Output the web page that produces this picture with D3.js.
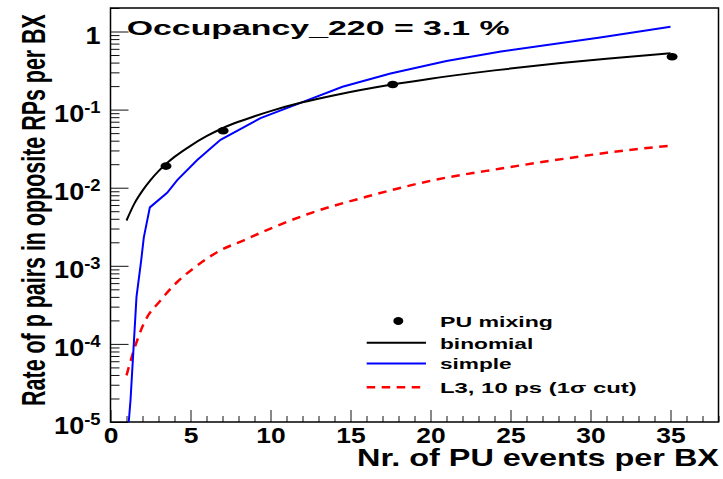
<!DOCTYPE html>
<html>
<head>
<meta charset="utf-8">
<script src="https://cdn.jsdelivr.net/npm/d3@7"></script>
<style>
  body { margin: 0; background: #fff; }
  text { font-family: "Liberation Sans", Arial, Helvetica, sans-serif; font-weight: bold; fill: #000; }
</style>
</head>
<body>
<svg id="chart" width="723" height="479"></svg>
<script>
// PU mixing simulation points
const puX = [3.47, 7.04, 17.64, 35.1];
const puY = [0.0189, 0.0535, 0.21, 0.475];

// binomial expectation
const binomX = [1, 1.5, 2, 2.5, 3, 3.5, 4, 5, 6, 7, 8, 9, 10, 12, 14, 17.6, 20, 24, 28, 31, 35];
const binomY = [0.0038, 0.0063, 0.00916, 0.0125, 0.0163, 0.0204, 0.0248, 0.0344, 0.0456, 0.0577, 0.0698, 0.0823, 0.0957, 0.124, 0.153, 0.2096, 0.249, 0.318, 0.3925, 0.449, 0.525];

// simple model
const simpleX = [1.0, 1.14, 1.25, 1.42, 1.625, 1.92, 2.08, 2.46, 3.54, 4.17, 5.42, 6.875, 9.375, 11.875, 14.5, 17.5, 21.0, 24.4, 30.6, 35.0];
const simpleY = [3.5e-6, 1.0e-5, 1.9e-5, 7.5e-5, 4.0e-4, 1.18e-3, 2.3e-3, 5.6e-3, 8.6e-3, 0.0125, 0.0226, 0.041, 0.0778, 0.122, 0.196, 0.29, 0.42, 0.555, 0.84, 1.15];

// L3, 10 ps timing (1 sigma cut)
const l3X = [1.0, 1.46, 2.08, 3.125, 4.17, 5.42, 6.875, 8.33, 10.0, 12.3, 16.04, 20.2, 24.4, 28.5, 32.7, 35.0];
const l3Y = [3.95e-5, 8.3e-5, 1.82e-4, 3.6e-4, 6.2e-4, 1.01e-3, 1.58e-3, 2.12e-3, 3.0e-3, 4.57e-3, 7.7e-3, 0.0125, 0.0176, 0.0237, 0.0309, 0.0345];

// axis ticks
const xMajor = [0, 5, 10, 15, 20, 25, 30, 35];
const xMinor = d3.range(1, 39).filter(v => v % 5 !== 0);
const yExp = [-5, -4, -3, -2, -1, 0];

const legendLabels = ["PU mixing", "binomial", "simple", "L3, 10 ps (1\u03c3 cut)"];

const L = 110.5, R = 718.5, T = 8, B = 422;
const svg = d3.select("#chart");

const x = d3.scaleLinear().domain([0, 38]).range([L, R]);
const y = d3.scaleLog().domain([1e-5, 2]).range([B, T]);

const yMajor = yExp.map(e => Math.pow(10, e));
const yMinor = [];
yExp.forEach(e => { for (let k = 2; k <= 9; k++) { const v = k * Math.pow(10, e); if (v <= 2) yMinor.push(v); } });

svg.append("defs").append("clipPath").attr("id", "plotclip")
  .append("rect").attr("x", L).attr("y", T).attr("width", R - L).attr("height", B - T);

// frame background
svg.append("rect").attr("x", L).attr("y", T).attr("width", R - L).attr("height", B - T)
  .attr("fill", "#fff").attr("stroke", "none");

// y axis (log)
const yMinorAxis = svg.append("g").attr("transform", `translate(${L},0)`)
  .call(d3.axisLeft(y).tickValues(yMinor).tickSizeInner(-9).tickSizeOuter(0).tickFormat(() => ""));
const yMajorAxis = svg.append("g").attr("transform", `translate(${L},0)`)
  .call(d3.axisLeft(y).tickValues(yMajor).tickSizeInner(-18).tickSizeOuter(0).tickPadding(10).tickFormat(() => ""));
[yMinorAxis, yMajorAxis].forEach(g => {
  g.select(".domain").remove();
  g.selectAll("line").attr("stroke", "#111").attr("stroke-width", 1);
});
const ySx = 1.15;
yMajorAxis.selectAll(".tick text").each(function (d, i) {
  const t = d3.select(this)
    .attr("x", -10 / ySx).attr("dy", null).attr("y", 11.5)
    .attr("transform", `scale(${ySx},1)`)
    .attr("font-size", 23.5).attr("text-anchor", "end").attr("fill", "#000");
  const e = yExp[i];
  if (e === 0) {
    t.append("tspan").text("1");
  } else {
    t.append("tspan").text("10");
    t.append("tspan").attr("font-size", 16).attr("dy", -9).text(String(e));
  }
});

// x axis
const xMinorAxis = svg.append("g").attr("transform", `translate(0,${B})`)
  .call(d3.axisBottom(x).tickValues(xMinor).tickSizeInner(-6).tickSizeOuter(0).tickFormat(() => ""));
const xMajorAxis = svg.append("g").attr("transform", `translate(0,${B})`)
  .call(d3.axisBottom(x).tickValues(xMajor).tickSizeInner(-12).tickSizeOuter(0).tickPadding(5).tickFormat(d3.format("d")));
[xMinorAxis, xMajorAxis].forEach(g => {
  g.select(".domain").remove();
  g.selectAll("line").attr("stroke", "#111").attr("stroke-width", 1);
});
xMajorAxis.selectAll(".tick text")
  .attr("font-size", 22).attr("fill", "#000")
  .attr("transform", "scale(1.2,1)");

// frame
svg.append("rect").attr("x", L).attr("y", T).attr("width", R - L).attr("height", B - T)
  .attr("fill", "none").attr("stroke", "#000").attr("stroke-width", 1.5);

// curves
const plot = svg.append("g").attr("clip-path", "url(#plotclip)");
const lineOf = (xs, ys, curve) => d3.line().x((d, i) => x(xs[i])).y((d, i) => y(ys[i])).curve(curve)(xs);

plot.append("path").attr("d", lineOf(l3X, l3Y, d3.curveMonotoneX))
  .attr("fill", "none").attr("stroke", "#ff0000").attr("stroke-width", 2.5).attr("stroke-dasharray", "8.5,6.5");
plot.append("path").attr("d", lineOf(simpleX, simpleY, d3.curveLinear))
  .attr("fill", "none").attr("stroke", "#0000ff").attr("stroke-width", 2);
plot.append("path").attr("d", lineOf(binomX, binomY, d3.curveMonotoneX))
  .attr("fill", "none").attr("stroke", "#000").attr("stroke-width", 2);

plot.selectAll("ellipse.pu").data(puX).join("ellipse").attr("class", "pu")
  .attr("cx", (d, i) => x(puX[i])).attr("cy", (d, i) => y(puY[i]))
  .attr("rx", 5.5).attr("ry", 3.8).attr("fill", "#000");

// occupancy note inside the frame
svg.append("text").attr("x", 126.7).attr("y", 34.5).attr("font-size", 20)
  .attr("textLength", 383).attr("lengthAdjust", "spacingAndGlyphs")
  .text("Occupancy_220 = 3.1 %");

// axis titles
svg.append("text").attr("x", 719).attr("y", 466).attr("text-anchor", "end").attr("font-size", 23)
  .attr("textLength", 362).attr("lengthAdjust", "spacingAndGlyphs")
  .text("Nr. of PU events per BX");

// y title: narrow, tall glyphs — size the run to its length, then stretch the glyph height
const yTitle = svg.append("text").attr("text-anchor", "middle").attr("font-size", 33)
  .text("Rate of p pairs in opposite RPs per BX");
const natural = yTitle.node().getComputedTextLength();
const runLen = 392, capFont = 33;
const fitFont = capFont * runLen / natural;
yTitle.attr("font-size", fitFont)
  .attr("transform", `translate(45,210) rotate(-90) scale(1,${capFont / fitFont})`);

// legend
const legY = [321, 342.7, 363.5, 387.3];
const legW = [113, 93.3, 71.7, 196.7];
const leg = svg.append("g");
leg.append("ellipse").attr("cx", 398.3).attr("cy", legY[0]).attr("rx", 5).attr("ry", 4).attr("fill", "#000");
leg.append("line").attr("x1", 366.7).attr("x2", 426).attr("y1", legY[1]).attr("y2", legY[1])
  .attr("stroke", "#000").attr("stroke-width", 2);
leg.append("line").attr("x1", 366.7).attr("x2", 426).attr("y1", legY[2]).attr("y2", legY[2])
  .attr("stroke", "#0000ff").attr("stroke-width", 2);
leg.append("line").attr("x1", 366.7).attr("x2", 426).attr("y1", legY[3]).attr("y2", legY[3])
  .attr("stroke", "#ff0000").attr("stroke-width", 2.5).attr("stroke-dasharray", "8.5,6.5");
legendLabels.forEach((s, i) => {
  leg.append("text").attr("x", 440).attr("y", legY[i] + 5.8).attr("font-size", 15.5)
    .attr("textLength", legW[i]).attr("lengthAdjust", "spacingAndGlyphs").text(s);
});
</script>
</body>
</html>
